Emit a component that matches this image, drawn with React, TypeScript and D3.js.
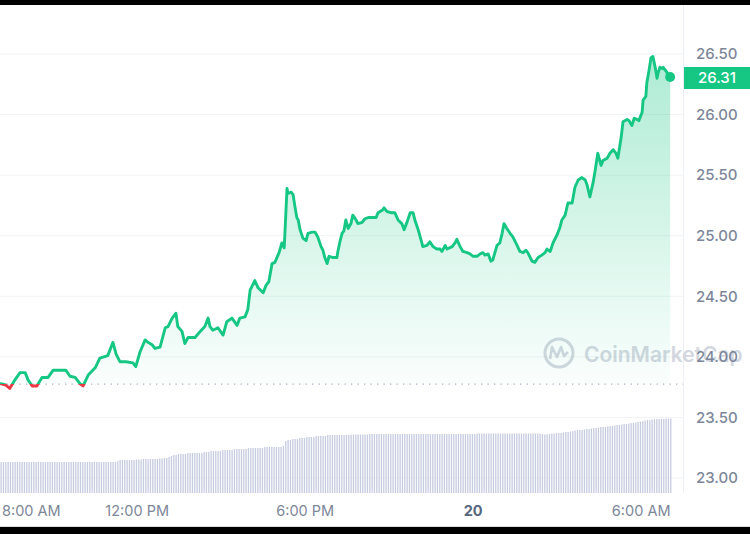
import { scaleLinear, scaleTime, line as d3Line, area as d3Area } from "d3";

const GREEN = "#16c784";
const RED = "#ea3943";

// chart starts 7:06 AM on the 19th and covers 24 hours
const START = new Date(2023, 0, 19, 7, 6);
const SPAN_MIN = 24 * 60;

const openPrice = 23.775;
const lastPrice = 26.31;

// [minutes after START, price]
const pricePoints: [number, number][] = [
  [0, 23.78], [11, 23.77], [21, 23.74], [32, 23.81], [43, 23.87], [54, 23.87], [60, 23.81], [69, 23.76],
  [79, 23.76], [90, 23.83], [103, 23.83], [114, 23.89], [133, 23.89], [141, 23.89], [150, 23.84], [161, 23.83],
  [171, 23.78], [178, 23.76], [189, 23.85], [204, 23.91], [214, 23.99], [231, 24.01], [242, 24.12], [249, 24.02],
  [257, 23.96], [270, 23.96], [285, 23.95], [291, 23.92], [300, 24.04], [311, 24.14], [317, 24.12], [326, 24.1],
  [332, 24.07], [343, 24.08], [354, 24.24], [360, 24.25], [369, 24.32], [377, 24.36], [381, 24.25], [390, 24.21],
  [396, 24.11], [403, 24.16], [411, 24.16], [418, 24.16], [429, 24.21], [439, 24.25], [446, 24.32], [450, 24.25],
  [456, 24.22], [467, 24.24], [478, 24.18], [486, 24.29], [497, 24.32], [508, 24.26], [514, 24.32], [525, 24.33],
  [531, 24.39], [536, 24.55], [546, 24.63], [553, 24.57], [564, 24.53], [570, 24.59], [576, 24.62], [583, 24.77],
  [589, 24.78], [598, 24.86], [604, 24.94], [609, 24.9], [611, 25.06], [615, 25.39], [617, 25.35], [624, 25.36],
  [628, 25.34], [632, 25.24], [636, 25.15], [639, 25.13], [643, 25.05], [649, 24.98], [656, 24.96], [660, 25.02],
  [669, 25.03], [675, 25.03], [681, 24.99], [688, 24.91], [692, 24.88], [696, 24.82], [701, 24.77], [705, 24.83],
  [714, 24.82], [722, 24.82], [724, 24.87], [729, 24.96], [733, 25.02], [737, 25.04], [741, 25.13], [746, 25.06],
  [752, 25.1], [756, 25.17], [763, 25.13], [767, 25.1], [776, 25.11], [782, 25.14], [789, 25.15], [797, 25.15],
  [806, 25.15], [810, 25.19], [819, 25.21], [823, 25.23], [829, 25.2], [838, 25.19], [846, 25.19], [853, 25.13],
  [861, 25.1], [866, 25.05], [872, 25.11], [879, 25.19], [885, 25.19], [889, 25.13], [896, 25.05], [904, 24.94],
  [906, 24.91], [915, 24.92], [921, 24.95], [928, 24.91], [936, 24.89], [943, 24.89], [947, 24.87], [954, 24.92],
  [958, 24.89], [969, 24.91], [975, 24.94], [979, 24.97], [986, 24.91], [992, 24.87], [1001, 24.86], [1007, 24.85],
  [1014, 24.83], [1022, 24.83], [1029, 24.85], [1035, 24.86], [1039, 24.84], [1046, 24.85], [1052, 24.79], [1056, 24.8],
  [1065, 24.92], [1071, 24.94], [1076, 25.02], [1080, 25.1], [1086, 25.06], [1093, 25.02], [1099, 24.99], [1108, 24.92],
  [1114, 24.87], [1121, 24.86], [1127, 24.88], [1131, 24.86], [1140, 24.79], [1146, 24.78], [1153, 24.82], [1161, 24.84],
  [1168, 24.86], [1172, 24.89], [1179, 24.87], [1185, 24.94], [1194, 25.01], [1200, 25.07], [1204, 25.13], [1211, 25.17],
  [1217, 25.27], [1226, 25.27], [1232, 25.4], [1239, 25.46], [1247, 25.48], [1254, 25.46], [1258, 25.42], [1264, 25.32],
  [1271, 25.44], [1275, 25.53], [1281, 25.68], [1288, 25.58], [1292, 25.62], [1301, 25.64], [1307, 25.68], [1314, 25.71],
  [1320, 25.68], [1324, 25.64], [1331, 25.81], [1335, 25.94], [1344, 25.96], [1348, 25.95], [1354, 25.91], [1359, 25.97],
  [1365, 25.96], [1369, 25.95], [1376, 26.02], [1378, 26.12], [1384, 26.15], [1386, 26.26], [1391, 26.37], [1395, 26.47],
  [1399, 26.48], [1404, 26.39], [1408, 26.3], [1410, 26.34], [1414, 26.39], [1419, 26.38], [1421, 26.39], [1425, 26.37],
  [1429, 26.35], [1431, 26.32], [1436, 26.31],
];

// 5-minute volume bars (relative units)
const volumes = [
  31, 31, 31, 31, 31, 31, 31, 31, 31, 31, 31, 31, 31, 31, 31, 31, 31, 31, 31, 31, 31, 31, 31, 31,
  31, 31, 31, 31, 31, 31, 31, 31, 31, 31, 31, 31, 31, 31, 31, 31, 31, 31, 31, 31, 31, 31, 31, 31,
  31, 31, 32, 33, 33, 33, 33, 33, 33, 33, 33.5, 33.5, 33.5, 34, 34, 34, 34, 34, 34, 34, 34.5, 34.5, 35, 35,
  36, 37, 38, 38, 39, 39, 39, 39, 40, 40, 40, 40, 40, 40, 40, 41, 41, 41, 42, 42, 42, 42, 42, 43,
  43, 43, 43, 43, 44, 44, 44, 44, 44, 44, 45, 45, 45, 45, 45, 45, 45, 46, 46, 46, 46, 46, 46, 46,
  46, 47, 52, 53, 53, 54, 54, 54, 55, 55, 55, 56, 56, 56, 56, 57, 57, 57, 57, 57, 58, 58, 58, 58,
  58, 58, 58, 58, 58, 58, 58.5, 58.5, 58.5, 58.5, 58.5, 58.5, 58.5, 58.5, 59, 59, 59, 59, 59, 59, 59, 59, 59, 59,
  59, 59, 59, 59, 59, 59, 59, 59, 59, 59, 59, 59, 59, 59, 59, 59, 59, 59, 59, 59, 59, 59, 59, 59,
  59, 59, 59, 59, 59, 59, 59, 59, 59, 59, 59, 59, 59.5, 59.5, 59.5, 59.5, 59.5, 59.5, 59.5, 59.5, 59.5, 59.5, 59.5, 59.5,
  59.5, 59.5, 59.5, 59.5, 59.5, 59.5, 59.5, 59.5, 59.5, 59.5, 59.5, 59.5, 59.5, 59.5, 59.5, 59.5, 59, 58.5, 58.5, 59, 59.5, 59.5, 60, 60,
  60, 60.5, 61, 61, 61.5, 62, 62.5, 63, 63, 63, 63.5, 64, 64, 64.5, 65, 65, 65.5, 66, 66, 66, 66.5, 67, 67, 67.5,
  68, 68, 68.5, 69, 69, 69.5, 70, 70, 70.5, 71, 71.5, 72, 72.5, 73, 73, 73.5, 74, 74, 74, 74, 74, 74.5, 74.5, 74.5,
];

const yTicks = [23, 23.5, 24, 24.5, 25, 25.5, 26, 26.5];
const xTicks = [
  { time: new Date(2023, 0, 19, 8, 0), label: "8:00 AM", bold: false },
  { time: new Date(2023, 0, 19, 12, 0), label: "12:00 PM", bold: false },
  { time: new Date(2023, 0, 19, 18, 0), label: "6:00 PM", bold: false },
  { time: new Date(2023, 0, 20, 0, 0), label: "20", bold: true },
  { time: new Date(2023, 0, 20, 6, 0), label: "6:00 AM", bold: false },
];

const W = 750;
const H = 534;
const PLOT_RIGHT = 683;

const at = (min: number) => new Date(START.getTime() + min * 60000);

export default function App() {
  const x = scaleTime().domain([START, at(SPAN_MIN)]).range([0, 672]);
  const y = scaleLinear().domain([23, 26.5]).range([478, 54]);
  const vy = scaleLinear().domain([0, 74]).range([493, 419]);
  const baseY = y(openPrice);

  const line = d3Line<[number, number]>()
    .x((d) => x(at(d[0])))
    .y((d) => y(d[1]));
  const area = d3Area<[number, number]>()
    .x((d) => x(at(d[0])))
    .y0(baseY)
    .y1((d) => y(d[1]));

  const last = pricePoints[pricePoints.length - 1];
  const font = "Inter, 'Noto Sans', sans-serif";

  return (
    <svg
      width={W}
      height={H}
      style={{ position: "absolute", left: 0, top: 0, background: "#fff" }}
      fontFamily={font}
    >
      <defs>
        <linearGradient id="gfill" gradientUnits="userSpaceOnUse" x1="0" y1={54} x2="0" y2={baseY}>
          <stop offset="0%" stopColor={GREEN} stopOpacity={0.35} />
          <stop offset="100%" stopColor={GREEN} stopOpacity={0.02} />
        </linearGradient>
        <linearGradient id="rfill" gradientUnits="userSpaceOnUse" x1="0" y1={baseY} x2="0" y2={478}>
          <stop offset="0%" stopColor={RED} stopOpacity={0.02} />
          <stop offset="100%" stopColor={RED} stopOpacity={0.3} />
        </linearGradient>
        <clipPath id="above">
          <rect x={0} y={0} width={PLOT_RIGHT} height={baseY} />
        </clipPath>
        <clipPath id="below">
          <rect x={0} y={baseY} width={PLOT_RIGHT} height={H - baseY} />
        </clipPath>
      </defs>

      {/* grid */}
      {yTicks.map((t) => (
        <line key={t} x1={0} x2={PLOT_RIGHT} y1={y(t)} y2={y(t)} stroke="#f1f3f6" strokeWidth={1} />
      ))}
      <line x1={PLOT_RIGHT + 0.5} x2={PLOT_RIGHT + 0.5} y1={0} y2={493} stroke="#eceff3" strokeWidth={1} />

      {/* volume bars */}
      {volumes.map((v, i) => {
        const cx = x(at(i * 5 + 2.5));
        return <rect key={i} x={cx - 0.7} y={vy(v)} width={1.3} height={493 - vy(v)} fill="#c6cce0" />;
      })}

      {/* watermark */}
      <g opacity={0.5} stroke="#a9b1c2" fill="none">
        <circle cx={559} cy={353} r={14} strokeWidth={3} />
        <path d="M550,359 L552,347 L557,357 L561,347 L564,356 L568,352" strokeWidth={2.6} strokeLinejoin="round" />
      </g>
      <text x={584} y={362} fontSize={21} fontWeight={600} fill="#a9b1c2" opacity={0.5}>
        CoinMarketCap
      </text>

      {/* baseline */}
      <line x1={0} x2={PLOT_RIGHT} y1={baseY} y2={baseY} stroke="#a6b0c3" strokeWidth={1.3} strokeDasharray="1.3,5.2" />

      {/* areas */}
      <path d={area(pricePoints) ?? ""} fill="url(#gfill)" clipPath="url(#above)" />
      <path d={area(pricePoints) ?? ""} fill="url(#rfill)" clipPath="url(#below)" />

      {/* line */}
      <path d={line(pricePoints) ?? ""} fill="none" stroke={GREEN} strokeWidth={2.9} strokeLinejoin="round" clipPath="url(#above)" />
      <path d={line(pricePoints) ?? ""} fill="none" stroke={RED} strokeWidth={2.9} strokeLinejoin="round" clipPath="url(#below)" />
      <circle cx={x(at(last[0]))} cy={y(last[1])} r={5} fill={GREEN} />

      {/* y labels */}
      {yTicks.map((t) => (
        <text key={t} x={696} y={y(t)} dy="0.35em" fontSize={15} fontWeight={500} fill="#7d8799">
          {t.toFixed(2)}
        </text>
      ))}
      <rect x={684} y={67} width={66} height={22} fill={GREEN} />
      <text x={717} y={78} dy="0.35em" fontSize={15} fill="#fff" textAnchor="middle" fontWeight={500}>
        {lastPrice.toFixed(2)}
      </text>

      {/* x labels */}
      {xTicks.map((t) => {
        const px = x(t.time);
        const first = px < 40;
        return (
          <text
            key={t.label}
            x={first ? 2 : px}
            y={511}
            dy="0.35em"
            fontSize={14.5}
            textAnchor={first ? "start" : "middle"}
            fill={t.bold ? "#58667e" : "#7d8799"}
            fontWeight={t.bold ? 700 : 400}
          >
            {t.label}
          </text>
        );
      })}

      {/* photo borders */}
      <rect x={0} y={0} width={W} height={5} fill="#000" />
      <rect x={0} y={526} width={W} height={1} fill="#ddd" />
      <rect x={0} y={527} width={W} height={H - 527} fill="#000" />
    </svg>
  );
}
